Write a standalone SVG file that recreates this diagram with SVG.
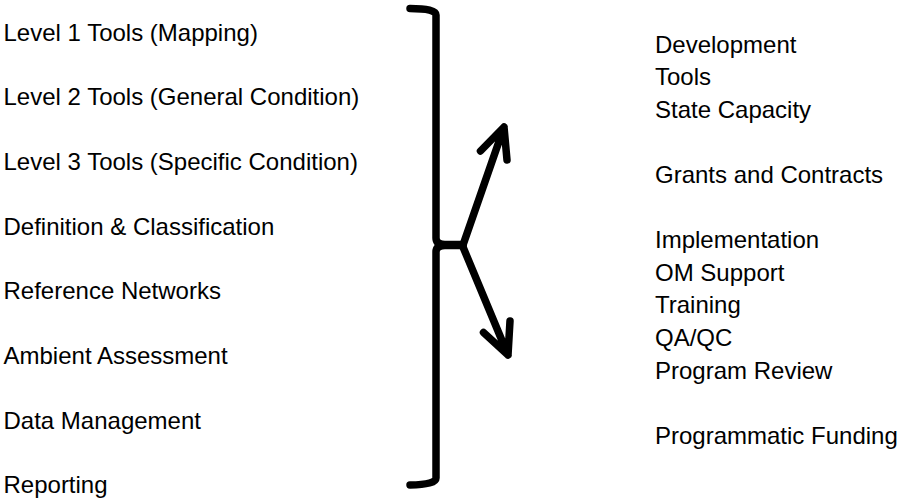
<svg xmlns="http://www.w3.org/2000/svg" width="902" height="501" viewBox="0 0 902 501">
<style>
text { font-family: "Liberation Sans", Arial, sans-serif; font-size: 24px; fill: #000; }
.ln { fill: none; stroke: #000; stroke-width: 7.5; stroke-linecap: round; stroke-linejoin: round; }
</style>
<rect width="902" height="501" fill="#fff"/>
<g id="left-list">
<text x="3.5" y="40.7">Level 1 Tools (Mapping)</text>
<text x="3.5" y="105.4">Level 2 Tools (General Condition)</text>
<text x="3.5" y="170">Level 3 Tools (Specific Condition)</text>
<text x="3.5" y="234.7">Definition &amp; Classification</text>
<text x="3.5" y="299.3">Reference Networks</text>
<text x="3.5" y="364">Ambient Assessment</text>
<text x="3.5" y="428.7">Data Management</text>
<text x="3.5" y="493.3">Reporting</text>
</g>
<g id="right-list">
<text x="655" y="52.5">Development</text>
<text x="655" y="85.1">Tools</text>
<text x="655" y="117.7">State Capacity</text>
<text x="655" y="182.9">Grants and Contracts</text>
<text x="655" y="248.1">Implementation</text>
<text x="655" y="280.7">OM Support</text>
<text x="655" y="313.3">Training</text>
<text x="655" y="345.9">QA/QC</text>
<text x="655" y="378.5">Program Review</text>
<text x="655" y="443.7">Programmatic Funding</text>
</g>
<g id="connectors">
<path class="ln" d="M410,8.5 Q436,8.5 436,15 L436,238 Q436,244.5 445,244.5 L463,244.5"/>
<path class="ln" d="M463,245.5 L445,245.5 Q436,245.5 436,252 L436,478 Q436,484.5 410,485"/>
<path class="ln" d="M463,245 L504,127 M480.5,151 L504,127 L507,160"/>
<path class="ln" d="M463,247 L508,355 M483.5,332.5 L508,355 L510,321"/>
</g>
</svg>
